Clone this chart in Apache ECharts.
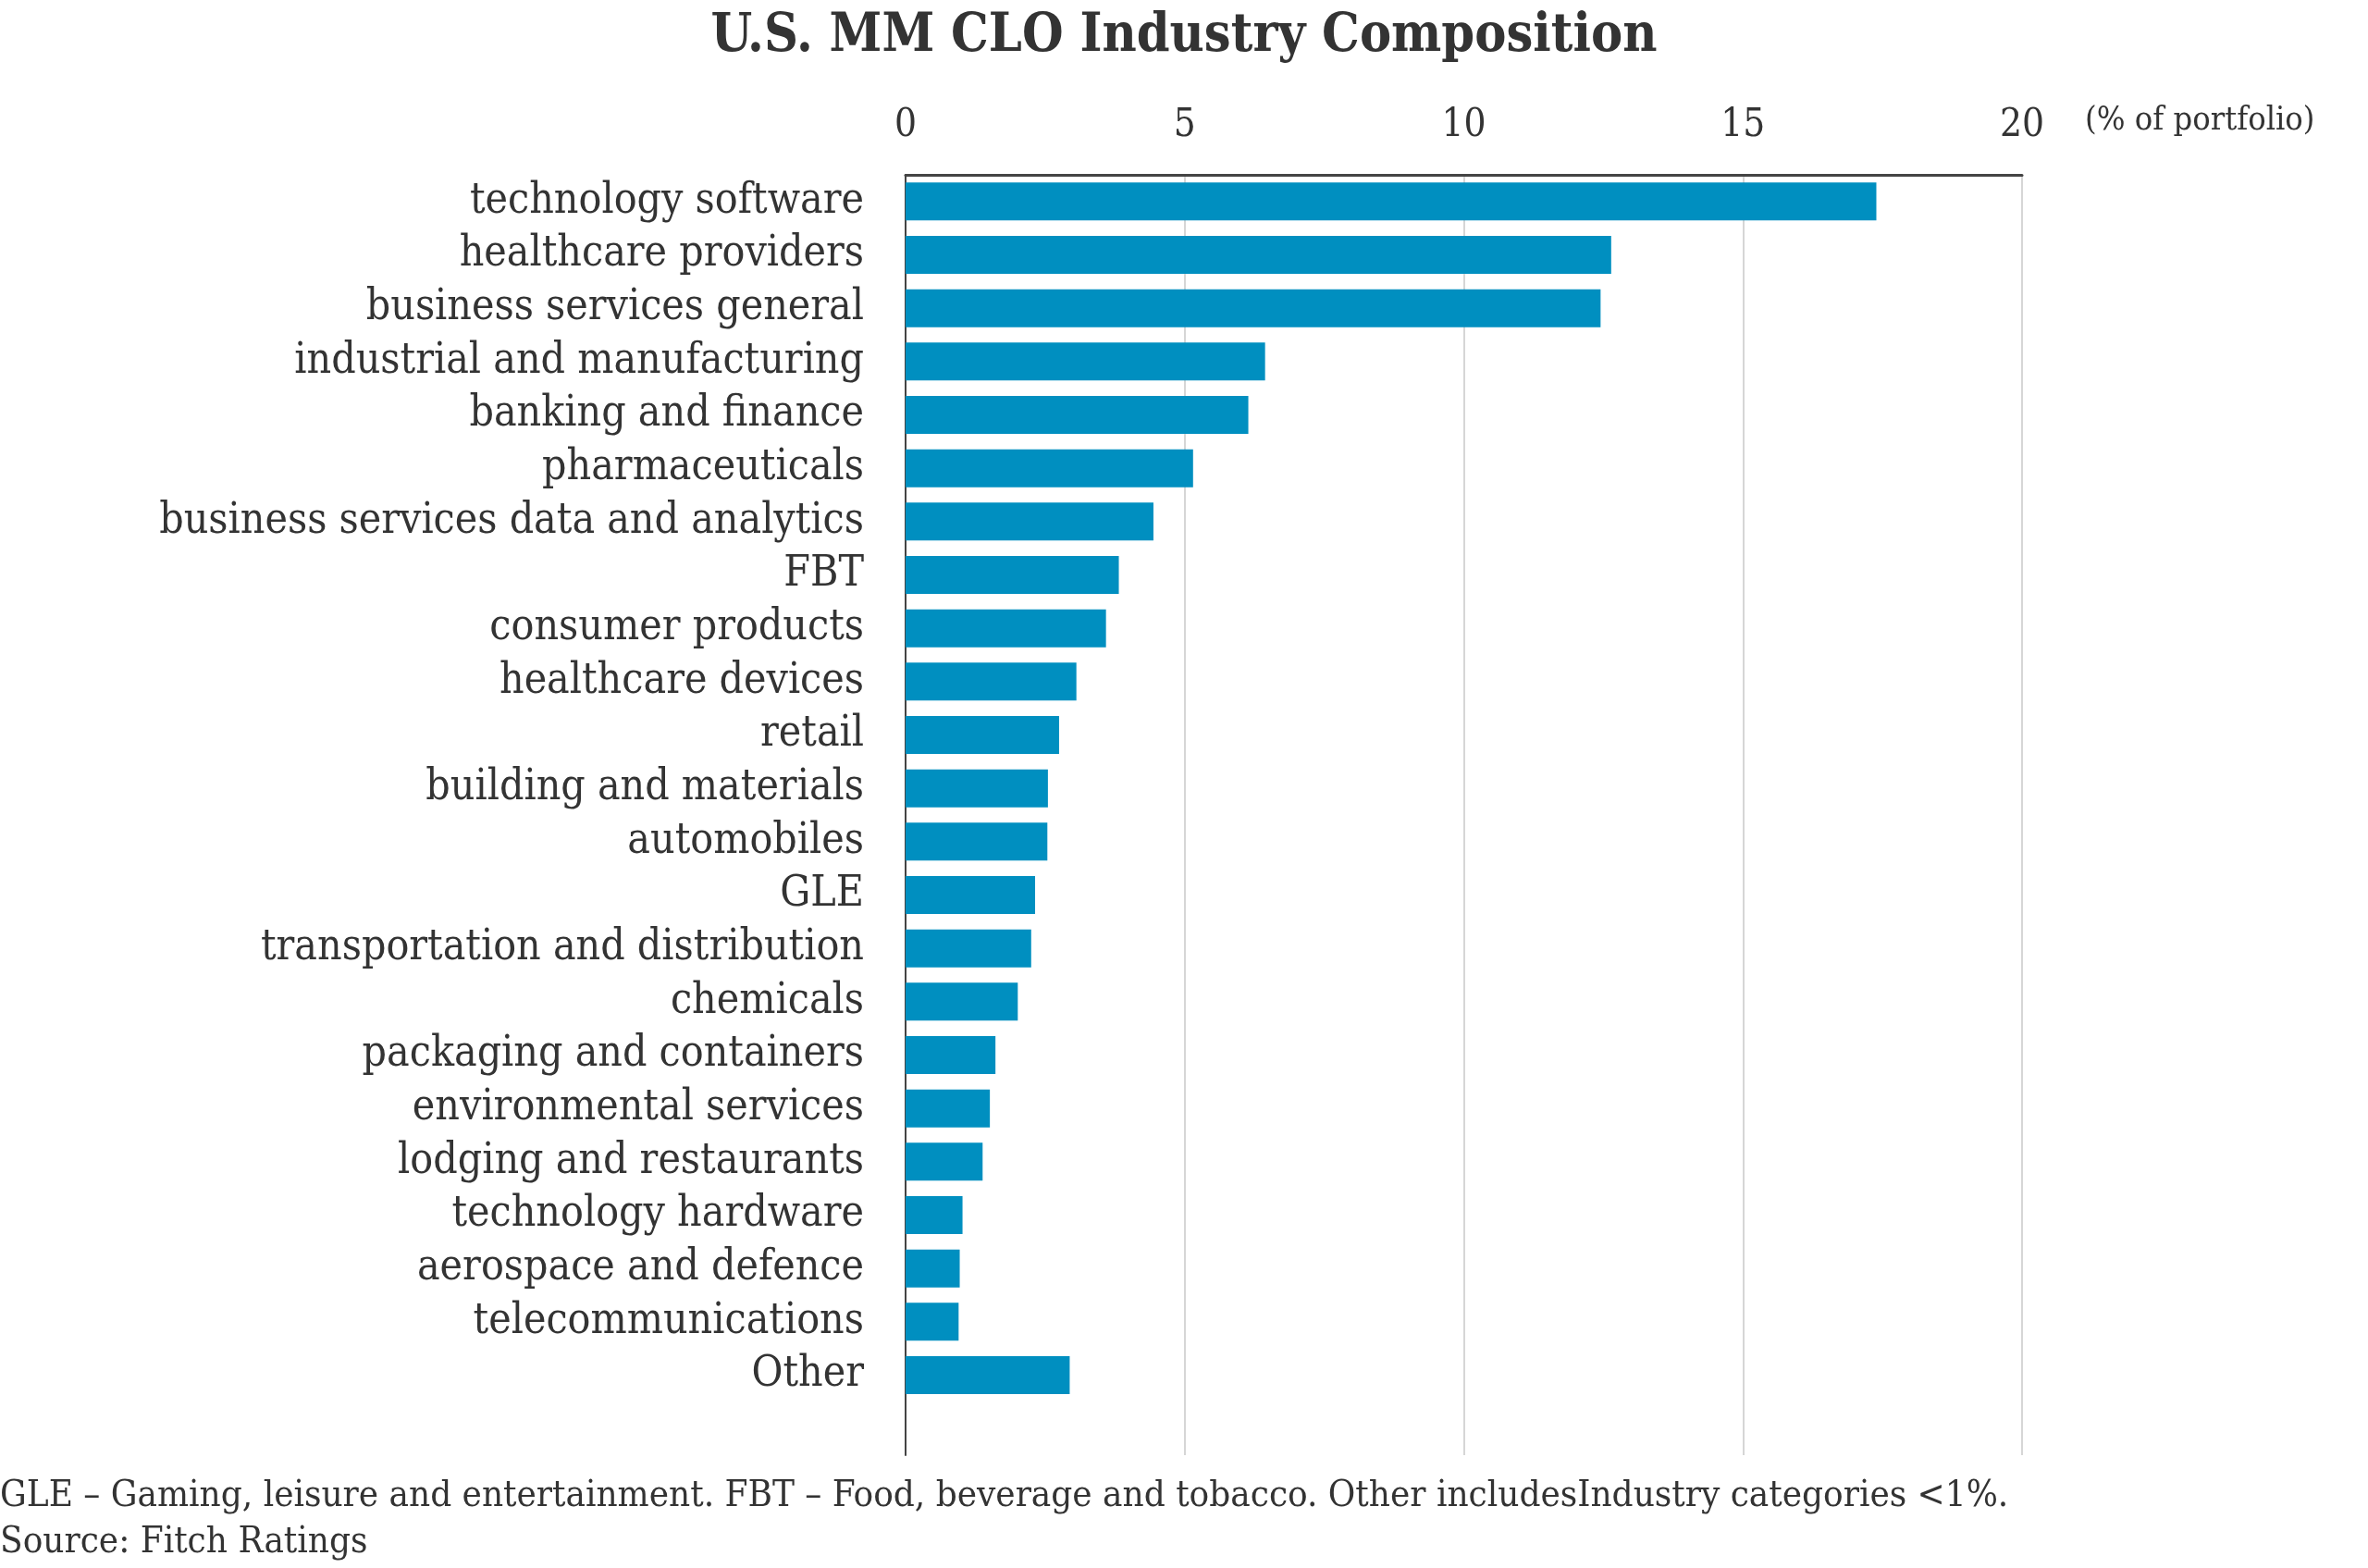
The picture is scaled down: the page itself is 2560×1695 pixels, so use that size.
<!DOCTYPE html>
<html>
<head>
<meta charset="utf-8">
<title>U.S. MM CLO Industry Composition</title>
<script src="https://cdn.jsdelivr.net/npm/echarts@6/dist/echarts.min.js"></script>
<style>
  html, body { margin: 0; padding: 0; background: #fff; }
  #main { width: 2560px; height: 1695px; }
</style>
</head>
<body>
<div id="main"></div>
<script>
// industries, top to bottom; last empty slot keeps the gap under "Other"
var industries = [
  'technology software', 'healthcare providers', 'business services general',
  'industrial and manufacturing', 'banking and finance', 'pharmaceuticals',
  'business services data and analytics', 'FBT', 'consumer products',
  'healthcare devices', 'retail', 'building and materials', 'automobiles',
  'GLE', 'transportation and distribution', 'chemicals',
  'packaging and containers', 'environmental services',
  'lodging and restaurants', 'technology hardware', 'aerospace and defence',
  'telecommunications', 'Other', ''
];
// % of portfolio
var shares = [
  17.39, 12.64, 12.45, 6.44, 6.14, 5.15, 4.44, 3.82, 3.59, 3.06, 2.75, 2.55,
  2.54, 2.32, 2.25, 2.01, 1.61, 1.51, 1.38, 1.02, 0.97, 0.95, 2.94
];
var xTicks = { min: 0, max: 20, interval: 5 };

var chart = echarts.init(document.getElementById('main'));
var serif = "'DejaVu Serif Condensed', 'DejaVu Serif'";
var textColor = '#333333';

var option = {
  backgroundColor: '#ffffff',
  animation: false,
  title: [
    {
      text: 'U.S. MM CLO Industry Composition',
      left: 'center',
      top: 12,
      padding: 0,
      textStyle: { fontFamily: serif, fontSize: 57, fontWeight: 'bold', color: textColor }
    },
    {
      text: '(% of portfolio)',
      left: 2254,
      top: 113,
      padding: 0,
      textStyle: { fontFamily: serif, fontSize: 36, fontWeight: 'normal', color: textColor }
    },
    {
      text: 'GLE \u2013 Gaming, leisure and entertainment. FBT \u2013 Food, beverage and tobacco. Other includesIndustry categories <1%.',
      left: 0,
      top: 1598,
      padding: 0,
      textStyle: { fontFamily: serif, fontSize: 40, fontWeight: 'normal', color: textColor }
    },
    {
      text: 'Source: Fitch Ratings',
      left: 0,
      top: 1648,
      padding: 0,
      textStyle: { fontFamily: serif, fontSize: 40, fontWeight: 'normal', color: textColor }
    }
  ],
  grid: {
    left: 979,
    right: 374,
    top: 189,
    bottom: 122,
    containLabel: false
  },
  xAxis: {
    type: 'value',
    position: 'top',
    min: xTicks.min,
    max: xTicks.max,
    interval: xTicks.interval,
    axisLine: { show: true, lineStyle: { color: '#444444', width: 3 } },
    axisTick: { show: false },
    axisLabel: {
      margin: 32,
      fontFamily: serif,
      fontSize: 42,
      color: textColor
    },
    splitLine: { show: true, lineStyle: { color: '#d6d6d6', width: 2 } }
  },
  yAxis: {
    type: 'category',
    inverse: true,
    data: industries,
    axisLine: { show: true, lineStyle: { color: '#444444', width: 2 } },
    axisTick: { show: false },
    axisLabel: {
      margin: 45,
      fontFamily: serif,
      fontSize: 46,
      color: textColor,
      interval: 0
    },
    splitLine: { show: false }
  },
  series: [
    {
      type: 'bar',
      data: shares,
      barCategoryGap: '29%',
      itemStyle: { color: '#008fc0' },
      silent: true
    }
  ]
};

chart.setOption(option);
</script>
</body>
</html>
